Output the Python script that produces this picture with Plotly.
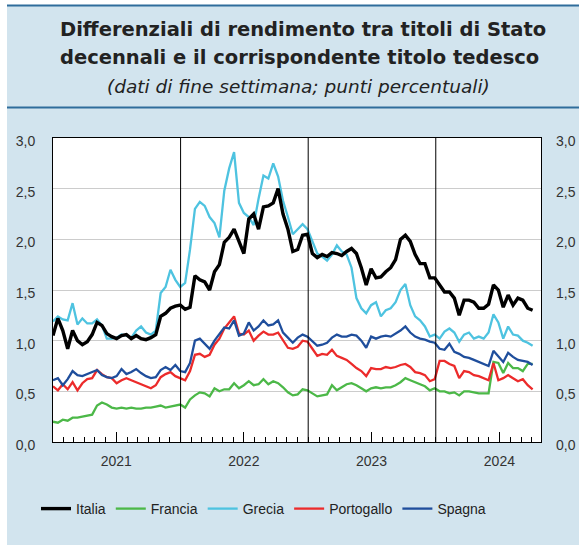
import pandas as pd
import plotly.graph_objects as go

# ---- data (fortnightly readings, percentage points) ----
dates = pd.date_range("2021-01-01", periods=99, freq="14D")

italia = [1.05,1.22,1.10,0.92,1.10,1.00,0.96,0.99,1.06,1.18,1.15,1.07,1.04,1.02,1.05,1.06,1.02,1.05,1.02,1.01,1.03,1.06,1.24,1.27,1.32,1.34,
          1.35,1.31,1.33,1.64,1.60,1.58,1.50,1.68,1.75,1.97,2.02,2.10,1.98,1.86,2.20,2.25,2.10,2.32,2.33,2.36,2.50,2.25,2.10,1.88,1.90,2.04,
          2.05,1.86,1.82,1.85,1.83,1.87,1.86,1.84,1.88,1.91,1.86,1.72,1.55,1.71,1.62,1.63,1.68,1.72,1.80,2.00,2.04,1.98,1.85,1.76,1.76,1.62,
          1.62,1.55,1.48,1.48,1.42,1.25,1.40,1.40,1.38,1.32,1.32,1.36,1.55,1.50,1.33,1.45,1.35,1.42,1.40,1.32,1.30]
francia = [0.20,0.19,0.22,0.21,0.24,0.24,0.25,0.26,0.27,0.36,0.39,0.37,0.34,0.33,0.34,0.33,0.34,0.33,0.33,0.34,0.34,0.35,0.36,0.34,0.35,0.36,
           0.37,0.34,0.42,0.46,0.49,0.48,0.45,0.53,0.50,0.52,0.52,0.58,0.53,0.56,0.60,0.56,0.57,0.62,0.57,0.60,0.58,0.54,0.49,0.46,0.47,0.52,
           0.51,0.48,0.45,0.46,0.47,0.56,0.51,0.54,0.57,0.58,0.56,0.53,0.50,0.53,0.54,0.53,0.54,0.54,0.56,0.59,0.63,0.61,0.59,0.57,0.55,0.51,
           0.53,0.50,0.50,0.48,0.49,0.46,0.50,0.50,0.49,0.48,0.48,0.48,0.79,0.78,0.68,0.78,0.73,0.73,0.70,0.77,0.77]
grecia = [1.19,1.24,1.21,1.20,1.37,1.16,1.22,1.17,1.17,1.21,1.15,1.02,1.02,1.03,1.06,1.05,1.03,1.10,1.14,1.08,1.06,1.10,1.47,1.53,1.70,1.60,
          1.53,1.57,1.90,2.30,2.37,2.33,2.22,2.16,2.02,2.48,2.70,2.86,2.36,2.26,2.22,2.14,2.40,2.63,2.60,2.75,2.62,2.38,2.22,2.05,2.10,2.15,
          2.10,1.98,1.86,1.83,1.79,1.85,1.94,1.88,1.85,1.72,1.42,1.32,1.27,1.35,1.38,1.24,1.30,1.32,1.38,1.50,1.56,1.35,1.24,1.20,1.14,1.04,
          1.06,1.02,1.09,1.12,1.08,0.99,1.06,1.08,1.02,1.04,1.02,1.08,1.26,1.18,1.02,1.14,1.06,1.05,1.00,0.98,0.95]
portogallo = [0.55,0.51,0.57,0.52,0.59,0.51,0.58,0.62,0.63,0.71,0.67,0.64,0.63,0.58,0.61,0.63,0.61,0.59,0.57,0.55,0.53,0.56,0.64,0.67,0.69,0.65,
              0.63,0.61,0.70,0.86,0.87,0.84,0.86,0.96,1.02,1.12,1.18,1.24,1.07,1.06,1.10,1.00,1.05,1.09,1.06,1.06,1.08,1.00,0.93,0.92,0.94,1.00,
              0.99,0.92,0.85,0.87,0.86,0.91,0.85,0.83,0.81,0.77,0.73,0.70,0.65,0.73,0.72,0.72,0.74,0.73,0.74,0.76,0.77,0.74,0.69,0.68,0.66,0.60,
              0.62,0.80,0.80,0.77,0.75,0.63,0.70,0.69,0.66,0.65,0.63,0.61,0.78,0.61,0.63,0.66,0.63,0.60,0.62,0.56,0.52]
spagna = [0.61,0.63,0.56,0.62,0.70,0.66,0.65,0.67,0.69,0.71,0.66,0.64,0.63,0.65,0.72,0.67,0.69,0.72,0.68,0.65,0.63,0.64,0.71,0.74,0.71,0.76,
          0.70,0.69,0.78,1.00,1.02,0.97,0.92,1.00,1.06,1.13,1.12,1.20,1.05,1.07,1.18,1.10,1.14,1.20,1.15,1.16,1.20,1.08,1.03,0.98,1.03,1.06,
          1.04,0.99,0.95,0.96,0.98,1.03,1.06,1.04,1.04,1.06,1.05,1.00,0.93,1.04,1.02,1.04,1.05,1.04,1.07,1.10,1.14,1.08,1.04,1.02,1.01,0.99,
          0.98,0.92,0.91,0.97,0.89,0.87,0.84,0.83,0.81,0.79,0.77,0.75,0.90,0.85,0.79,0.88,0.84,0.81,0.80,0.79,0.76]

years = [2021, 2022, 2023, 2024]
year_labels = ["2021", "2022", "2023", "2024"]

# ---- figure ----
W, H = 579, 545
L, R, T, B = 53, 541, 138, 442
def px(xp):
    return (xp - L) / (R - L)
def py(yp):
    return (B - yp) / (B - T)

BG = "#d2e4ee"
FONT = "Liberation Sans, Arial, sans-serif"
TFONT = "DejaVu Sans, Liberation Sans, sans-serif"

series = [
    ("Francia", francia, "#4cb848", 2.3, 2),
    ("Grecia", grecia, "#4ec3e0", 2.3, 3),
    ("Portogallo", portogallo, "#ec2b2b", 2.3, 4),
    ("Spagna", spagna, "#1f4e9c", 2.3, 5),
    ("Italia", italia, "#000000", 3.4, 1),
]

fig = go.Figure()
for name, vals, col, w, rank in series:
    fig.add_trace(go.Scatter(x=dates, y=vals, name=name, mode="lines",
                             line=dict(color=col, width=w), legendrank=rank))
# invisible trace to carry the right-hand axis
fig.add_trace(go.Scatter(x=dates, y=italia, yaxis="y2", mode="lines",
                         line=dict(width=0), opacity=0, showlegend=False,
                         hoverinfo="skip"))

month_ticks = pd.date_range("2021-02-01", "2024-10-01", freq="MS")
label_ticks = [pd.Timestamp(f"{y}-07-01") for y in years]

fig.update_layout(
    width=W, height=H,
    margin=dict(l=L, r=W - R, t=T, b=H - B, autoexpand=False),
    paper_bgcolor=BG, plot_bgcolor="white",
    separators=",.",
    font=dict(family=FONT, size=14, color="#333333"),
    showlegend=True,
    legend=dict(orientation="h", xref="container", yref="container",
                x=36 / W, xanchor="left", y=1 - 509 / H, yanchor="middle",
                font=dict(size=14, color="#222222"), bgcolor="rgba(0,0,0,0)",
                itemwidth=30, tracegroupgap=0),
    xaxis=dict(type="date", range=["2021-01-01", "2024-10-28"],
               tickmode="array", tickvals=label_ticks, ticktext=year_labels,
               ticks="inside", ticklen=10, tickcolor="black", tickwidth=1,
               minor=dict(tickmode="array", tickvals=list(month_ticks), ticks="inside",
                          ticklen=5, tickcolor="black", tickwidth=1, showgrid=False),
               showgrid=False, zeroline=False, showline=True, linecolor="black",
               linewidth=1, mirror=True, ticklabelstandoff=6,
               tickfont=dict(size=14, color="#333333")),
    yaxis=dict(range=[0, 3], tickmode="linear", tick0=0, dtick=0.5, tickformat=".1f",
               showgrid=True, gridcolor="#cccccc", gridwidth=1, zeroline=False,
               showline=True, linecolor="black", linewidth=1, mirror=True,
               ticks="", ticklabelstandoff=14, ticklabelshift=3,
               tickfont=dict(size=14, color="#333333")),
    yaxis2=dict(range=[0, 3], overlaying="y", side="right", tickmode="linear", tick0=0,
                dtick=0.5, tickformat=".1f", showgrid=False, zeroline=False,
                showline=False, ticks="", ticklabelstandoff=14, ticklabelshift=3,
                tickfont=dict(size=14, color="#333333")),
)

# year boundary lines
for y in years[1:]:
    fig.add_shape(type="line", xref="x", yref="paper", x0=f"{y}-01-01", x1=f"{y}-01-01",
                  y0=0, y1=1, line=dict(color="black", width=1))

# frame decorations: white page strips and blue rules
fig.add_shape(type="rect", xref="paper", yref="paper", x0=px(-2), x1=px(7), y0=py(550), y1=py(-2),
              fillcolor="white", line=dict(width=0), layer="above")
fig.add_shape(type="rect", xref="paper", yref="paper", x0=px(-2), x1=px(582), y0=py(5), y1=py(-2),
              fillcolor="white", line=dict(width=0), layer="above")
fig.add_shape(type="line", xref="paper", yref="paper", x0=px(7), x1=px(582), y0=py(5.5), y1=py(5.5),
              line=dict(color="#2f6d9b", width=2))
fig.add_shape(type="line", xref="paper", yref="paper", x0=px(7), x1=px(582), y0=py(107.5), y1=py(107.5),
              line=dict(color="#2f6d9b", width=2))

# titles
fig.add_annotation(text="<b>Differenziali di rendimento tra titoli di Stato</b>", xref="paper", yref="paper",
                   x=px(303), y=py(30), xanchor="center", yanchor="middle", showarrow=False,
                   font=dict(family=TFONT, size=19.5, color="#222222"))
fig.add_annotation(text="<b>decennali e il corrispondente titolo tedesco</b>", xref="paper", yref="paper",
                   x=px(299), y=py(57.5), xanchor="center", yanchor="middle", showarrow=False,
                   font=dict(family=TFONT, size=19.5, color="#222222"))
fig.add_annotation(text="<i>(dati di fine settimana; punti percentuali)</i>", xref="paper", yref="paper",
                   x=px(298), y=py(86), xanchor="center", yanchor="middle", showarrow=False,
                   font=dict(family=TFONT, size=18.5, color="#222222"))

fig.write_html("out.html", config={"displayModeBar": False},
               post_script="document.body.style.margin='0';document.body.style.padding='0';")
